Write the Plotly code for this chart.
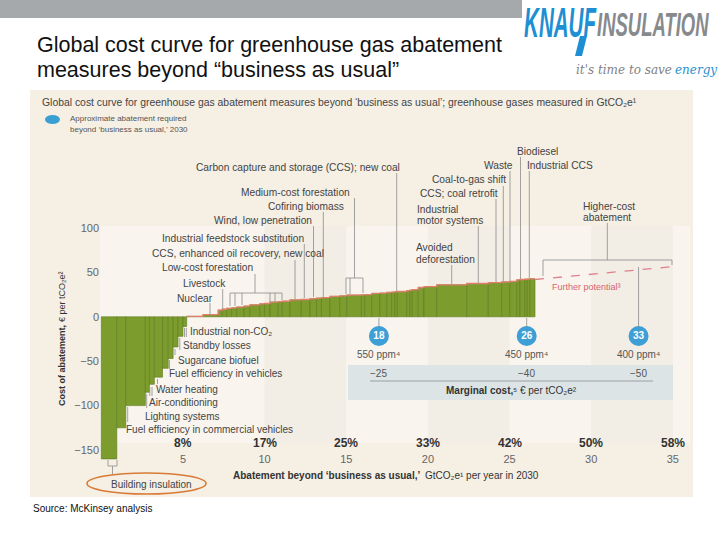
import plotly.graph_objects as go

# ---------------- data ----------------
# abatement measures: width = abatement potential (GtCO2e), cost = EUR per tCO2e
widths = [0.95, 0.55, 1.2, 0.25, 0.3, 0.5, 0.35, 0.3, 0.3, 0.3, 0.23,
          1.0, 0.93, 0.25, 0.27, 0.3, 0.31, 0.45, 0.36, 0.6, 0.3, 0.33,
          0.5, 0.25, 0.47, 0.7, 0.53, 0.4, 0.3, 0.52, 0.6, 0.43,
          0.9, 0.2, 0.43, 0.5, 0.42, 0.3, 0.2, 0.15, 0.57, 0.2, 0.15, 0.36,
          0.35, 0.78, 1.84, 1.32, 0.82, 0.5, 0.42, 0.2, 0.3, 0.15, 0.15, 0.32]
costs = [-160, -125, -100, -85, -76, -68, -58, -47, -34, -22, -11,
         0.5, 2.5, 7.5, 8.5, 9.5, 10, 11, 12, 13.5, 14.5, 15,
         16.5, 17, 17.5, 19, 19.5, 20.5, 21, 21.5, 23, 23.5,
         24.5, 24.8, 25, 26.3, 26.7, 27.5, 27.8, 28.2, 28.5, 29.5, 30, 30.5,
         33, 34, 36, 37.5, 38.5, 39.2, 39.8, 41.5, 42, 42.3, 42.5, 42.8]
first_positive = 11

further_x = [26.56, 35.0]
further_y = [42.0, 56.5]

x_ticks = [5, 10, 15, 20, 25, 30, 35]
pct_labels = ["8%", "17%", "25%", "33%", "42%", "50%", "58%"]
y_ticks = [100, 50, 0, -50, -100, -150]

target_labels = ["18", "26", "33"]
target_pos = [17.0, 26.05, 32.9]
ppm_labels = ["550 ppm\u2074", "450 ppm\u2074", "400 ppm\u2074"]
marginal_costs = ["\u221225", "\u221240", "\u221250"]

# ---------------- geometry ----------------
W, H = 720, 540
X0, XS = 101.3, 16.33      # pixel of x=0, pixels per GtCO2e
Y0, YS = 316.8, 0.888      # pixel of y=0, pixels per EUR
xr = [(0 - X0) / XS, (W - X0) / XS]
yr = [(Y0 - H) / YS, (Y0 - 0) / YS]

def PX(p):
    return p / W

def PY(p):
    return 1 - p / H

def YV(p):
    return (Y0 - p) / YS

FONT = "Liberation Sans, Arial, DejaVu Sans, sans-serif"
GREY_TXT = "#444444"
LINE_C = "#8c8c8c"

edges = [0.0]
for w in widths:
    edges.append(edges[-1] + w)
centers = [(edges[i] + edges[i + 1]) / 2 for i in range(len(widths))]

fig = go.Figure()

fig.add_trace(go.Bar(
    x=centers, y=costs, width=widths,
    marker=dict(color="#7d9c2e", line=dict(color="#5a7a1c", width=0.6)),
    hoverinfo="skip", showlegend=False))

# red curve along the tops of the positive-cost measures
top_x = edges[first_positive:]
top_y = costs[first_positive:] + [costs[-1]]
fig.add_trace(go.Scatter(x=top_x, y=top_y, mode="lines", line_shape="hv",
                         line=dict(color="#e0806c", width=1.3),
                         hoverinfo="skip", showlegend=False))

fig.add_trace(go.Scatter(x=further_x, y=further_y, mode="lines",
                         line=dict(color="#e0808a", width=1.3, dash="dash"),
                         hoverinfo="skip", showlegend=False))

TARGET_ROW = YV(336)
fig.add_trace(go.Scatter(
    x=target_pos, y=[TARGET_ROW] * len(target_pos), mode="markers+text",
    text=target_labels, textposition="middle center",
    textfont=dict(color="white", size=10, family=FONT, weight="bold"),
    marker=dict(size=20, color="#3d9fd6", line=dict(width=0)),
    hoverinfo="skip", showlegend=False))

# ---------------- shapes ----------------
shapes = []

def rect(x0, y0, x1, y1, color, layer="below"):
    shapes.append(dict(type="rect", xref="paper", yref="paper",
                       x0=PX(x0), x1=PX(x1), y0=PY(y0), y1=PY(y1),
                       fillcolor=color, line=dict(width=0), layer=layer))

def seg(x0, y0, x1, y1, color=LINE_C, width=0.8):
    shapes.append(dict(type="line", xref="paper", yref="paper",
                       x0=PX(x0), x1=PX(x1), y0=PY(y0), y1=PY(y1),
                       line=dict(color=color, width=width), layer="above"))

# slide header band
rect(0, 0, 522, 18, "#a6a9ac")
# chart panel
rect(30, 90, 693, 497, "#f5efe4")
rect(100, 226, 690, 443, "#f9f5ee")
for b0 in (10, 20, 30):
    shapes.append(dict(type="rect", xref="x", yref="paper", x0=b0, x1=b0 + 5,
                       y0=PY(443), y1=PY(226), fillcolor="#f2ede5",
                       line=dict(width=0), layer="below"))
# marginal cost box
rect(348, 365, 673, 400, "#dde4e5")
seg(370, 381, 653, 381, "#8a9092", 0.8)

# legend dot
shapes.append(dict(type="circle", xref="paper", yref="paper",
                   x0=PX(45), x1=PX(60), y0=PY(124), y1=PY(115),
                   fillcolor="#3aa0d3", line=dict(width=0)))

# leader lines
vlines = [
    (210, 303, 315), (222.7, 289, 309),
    (255, 274, 293), (230, 293, 306), (235, 293, 306), (242, 293, 305),
    (270, 293, 302), (275, 293, 302), (282, 293, 300),
    (295, 260, 299), (304.3, 244, 298), (313.5, 226, 297), (323.3, 212, 297),
    (354.5, 198, 278), (346, 278, 294), (350, 278, 294), (363, 278, 293),
    (396.7, 173, 291), (451.7, 265, 284), (478.3, 226, 283),
    (496, 199, 282), (503.3, 186, 281), (510, 171, 281), (520.5, 157, 279),
    (529.3, 171, 278),
    (607.3, 223, 260), (543, 260, 276), (672, 260, 265),
    (127.7, 407, 422), (146.7, 394, 408), (149.8, 387, 396), (152, 387, 396),
    (157.5, 379, 384), (169.5, 360, 369), (175, 349, 355), (179.8, 338, 350),
    (184.5, 328, 337), (186.3, 328, 337),
    (108, 460, 466), (117, 460, 466), (112.5, 466, 474),
]
for x, a, b in vlines:
    seg(x, a, x, b)
for x0, x1, y in [(230, 282, 293), (346, 363, 278), (543, 672, 260), (108, 117, 466)]:
    seg(x0, y, x1, y)

# connectors from curve to target markers
for xp, ytop in zip(target_pos, [318, 318, 267]):
    shapes.append(dict(type="line", xref="x", yref="paper", x0=xp, x1=xp,
                       y0=PY(ytop), y1=PY(327),
                       line=dict(color=LINE_C, width=0.8), layer="above"))

# highlight ellipse
shapes.append(dict(type="circle", xref="paper", yref="paper",
                   x0=PX(87), x1=PX(206), y0=PY(494), y1=PY(473),
                   line=dict(color="#d97a36", width=1.6)))

# logo descender of the F
shapes.append(dict(type="path", xref="paper", yref="paper",
                   path="M %f %f L %f %f L %f %f L %f %f Z" % (
                       PX(580), PY(36), PX(587), PY(36), PX(582), PY(56), PX(575), PY(56)),
                   fillcolor="#1d8fd2", line=dict(width=0)))

# ---------------- annotations ----------------
ann = []

def txt(x, y, s, size=10, color=GREY_TXT, anchor="left", weight="normal",
        style="normal", family=FONT, xref="paper", angle=0):
    ann.append(dict(x=PX(x) if xref == "paper" else x, y=PY(y), xref=xref, yref="paper",
                    text=s, showarrow=False, xanchor=anchor, yanchor="middle",
                    textangle=angle, borderpad=0, borderwidth=0,
                    font=dict(size=size, color=color, family=family,
                              weight=weight, style=style)))

# slide title
txt(37, 45, "Global cost curve for greenhouse gas abatement", 21.5, "#111111")
txt(37, 70, "measures beyond \u201cbusiness as usual\u201d", 21.5, "#111111")
txt(33, 509, "Source: McKinsey analysis", 10, "#111111")

# logo
txt(524, 22, "KNAUF", 42, "#1d8fd2", weight="bold", style="italic")
txt(597, 25, "INSULATION", 33, "#878a8d", weight="bold", style="italic")
txt(672, 70, "it's time to save", 12, "#7f8285", anchor="right", style="italic",
    family="DejaVu Serif, serif")
txt(675, 70, "energy", 12, "#2a8fd0", anchor="left", style="italic",
    family="DejaVu Serif, serif")

# chart header and legend
txt(42, 102, "Global cost curve for greenhouse gas abatement measures beyond \u2018business as usual\u2019; "
    "greenhouse gases measured in GtCO\u2082e\u00b9", 10.4, "#444444")
txt(70, 119, "Approximate abatement required", 8, "#555555")
txt(70, 130, "beyond \u2018business as usual,\u2019 2030", 8, "#555555")

labels_top = [
    ("Carbon capture and storage (CCS); new coal", 196, 167),
    ("Medium-cost forestation", 241, 192),
    ("Cofiring biomass", 268, 206),
    ("Wind, low penetration", 214, 220),
    ("Industrial feedstock substitution", 162, 238),
    ("CCS, enhanced oil recovery, new coal", 152, 254),
    ("Low-cost forestation", 162, 268),
    ("Livestock", 183, 283),
    ("Nuclear", 177, 298),
    ("Biodiesel", 517, 151),
    ("Waste", 484, 165),
    ("Industrial CCS", 527, 165),
    ("Coal-to-gas shift", 432, 180),
    ("CCS; coal retrofit", 420, 193),
    ("Industrial", 417, 209),
    ("motor systems", 417, 220),
    ("Avoided", 416, 247),
    ("deforestation", 416, 259),
    ("Higher-cost", 583, 206),
    ("abatement", 583, 217),
]
for s, x, y in labels_top:
    txt(x, y, s, 10.2)

labels_neg = [
    ("Industrial non-CO\u2082", 190, 331),
    ("Standby losses", 183, 345),
    ("Sugarcane biofuel", 178, 360),
    ("Fuel efficiency in vehicles", 169, 374),
    ("Water heating", 156, 389),
    ("Air-conditioning", 148.5, 402),
    ("Lighting systems", 145, 416),
    ("Fuel efficiency in commercial vehicles", 126, 429),
    ("Building insulation", 111, 484),
]
for s, x, y in labels_neg:
    txt(x, y, s, 10)

txt(552, 287, "Further potential\u00b3", 9, "#d8646e")

# targets
for xp, p, m in zip(target_pos, ppm_labels, marginal_costs):
    txt(xp, 354.5, p, 10, "#555555", anchor="center", xref="x")
    txt(xp, 373, m, 10, "#555555", anchor="center", xref="x")
txt(513, 390, "Marginal cost,", 10, "#333333", anchor="right", weight="bold")
txt(513, 390, "\u2075 \u20ac per tCO\u2082e\u00b2", 10, "#333333", anchor="left")

# percentage of BAU emissions above ticks
for xv, p in zip(x_ticks, pct_labels):
    txt(xv, 442.5, p, 12, "#333333", anchor="center", weight="bold", xref="x")

# axis titles
txt(420, 475, "Abatement beyond \u2018business as usual,\u2019", 10, "#333333",
    anchor="right", weight="bold")
txt(425, 475, "GtCO\u2082e\u00b9 per year in 2030", 10, "#333333", anchor="left")
txt(62, 366, "Cost of abatement,", 9, "#333333", anchor="center", weight="bold", angle=-90)
txt(62, 297, "\u20ac per tCO\u2082e\u00b2", 9, "#333333", anchor="center", angle=-90)

fig.update_layout(
    width=W, height=H, margin=dict(l=0, r=0, t=0, b=0, pad=0),
    paper_bgcolor="white", plot_bgcolor="rgba(0,0,0,0)",
    barmode="overlay", showlegend=False,
    shapes=shapes, annotations=ann,
    font=dict(family=FONT),
    xaxis=dict(range=xr, domain=[0, 1], anchor="free", position=1 - 451 / H,
               tickvals=x_ticks, ticks="", showgrid=False, zeroline=False,
               showline=False, tickfont=dict(size=11, color="#666666"),
               automargin=False, fixedrange=True),
    yaxis=dict(range=yr, domain=[0, 1], anchor="free", position=99 / W,
               tickvals=y_ticks, ticktext=[str(v).replace("-", "\u2212") for v in y_ticks],
               ticks="", showgrid=False, zeroline=False, showline=False,
               tickfont=dict(size=11, color="#666666"),
               automargin=False, fixedrange=True),
)

post = """
(function(){
  document.documentElement.style.margin = '0';
  document.body.style.margin = '0';
  document.body.style.padding = '0';
  document.body.style.overflow = 'hidden';
  function fix(){
    document.querySelectorAll('text.annotation-text').forEach(function(t){
      var s = t.textContent, k = null;
      if (s === 'KNAUF') k = 0.49;
      else if (s === 'INSULATION') k = 0.56;
      if (k){
        t.style.transformBox = 'fill-box';
        t.style.transformOrigin = '0% 50%';
        t.style.transform = 'scaleX(' + k + ')';
      }
    });
  }
  fix();
  var gd = document.getElementById('{plot_id}');
  if (gd && gd.on) gd.on('plotly_afterplot', fix);
  setTimeout(fix, 30); setTimeout(fix, 300);
})();
"""

fig.write_html("out.html", post_script=post, config={"displayModeBar": False})
